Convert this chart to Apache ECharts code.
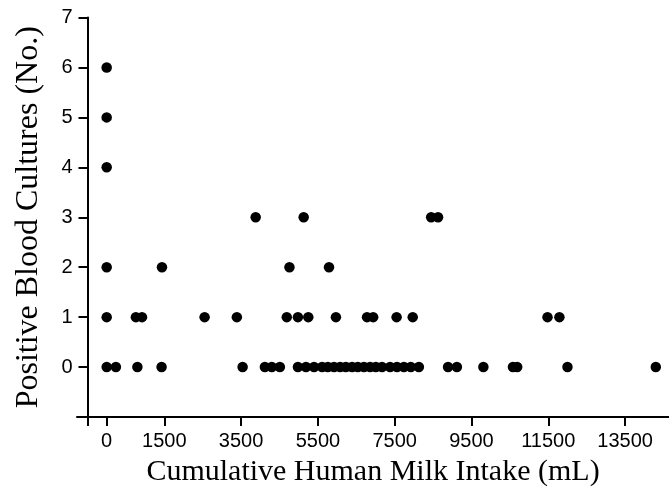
<!DOCTYPE html>
<html><head><meta charset="utf-8">
<script src="https://cdn.jsdelivr.net/npm/echarts@6/dist/echarts.min.js"></script>
<style>html,body{margin:0;padding:0;background:#fff}#c{width:669px;height:492px}</style>
</head><body><div id="c"></div>
<script>
// Tick values
const xTickValues = [-500, 0, 1500, 3500, 5500, 7500, 9500, 11500, 13500];
const xLabelValues = [0, 1500, 3500, 5500, 7500, 9500, 11500, 13500];
const yLabelValues = [0, 1, 2, 3, 4, 5, 6, 7];

// Cumulative human milk intake (mL) of infants, grouped by number of positive blood cultures
const intake0 = [0, 240, 800, 1430, 3540, 4120, 4300, 4510, 4980, 5190, 5400, 5610, 5760, 5920, 6080, 6230, 6390, 6540, 6700, 6860, 7010, 7170, 7380, 7560, 7740, 7920, 8130, 8890, 9120, 9810, 10580, 10690, 12000, 14300];
const intake1 = [0, 760, 920, 2550, 3390, 4690, 4980, 5250, 5970, 6780, 6940, 7550, 7970, 11480, 11790];
const intake2 = [0, 1440, 4760, 5790];
const intake3 = [3880, 5130, 8450, 8630];
const intake4 = [0];
const intake5 = [0];
const intake6 = [0];

const groups = [intake0, intake1, intake2, intake3, intake4, intake5, intake6];
const points = [];
groups.forEach((arr, count) => arr.forEach(x => points.push([x, count])));

const chart = echarts.init(document.getElementById('c'));
chart.setOption({
  animation: false,
  backgroundColor: '#fff',
  grid: { left: 77, right: 0, top: 17.5, bottom: 74.7, containLabel: false },
  xAxis: {
    type: 'value', min: -773, max: 14644,
    splitLine: { show: false },
    axisLine: { show: true, onZero: false, lineStyle: { color: '#000', width: 2 } },
    axisTick: { show: true, length: 9, inside: false, customValues: xTickValues, lineStyle: { color: '#000', width: 2 } },
    axisLabel: { customValues: xLabelValues, formatter: v => String(v), color: '#000', fontFamily: 'Liberation Sans', fontSize: 20, margin: 14 },
    name: 'Cumulative Human Milk Intake (mL)',
    nameLocation: 'middle', nameGap: 40,
    nameTextStyle: { color: '#000', fontFamily: 'Liberation Serif', fontSize: 30 }
  },
  yAxis: {
    type: 'value', min: -1, max: 7, offset: -10.5,
    splitLine: { show: false },
    axisLine: { show: true, onZero: false, lineStyle: { color: '#000', width: 2 } },
    axisTick: { show: true, length: 9, inside: false, customValues: yLabelValues, lineStyle: { color: '#000', width: 2 } },
    axisLabel: { customValues: yLabelValues, formatter: v => String(v), color: '#000', fontFamily: 'Liberation Sans', fontSize: 20, margin: 15 },
    name: 'Positive Blood Cultures (No.)',
    nameLocation: 'middle', nameGap: 43, nameRotate: 90,
    nameTextStyle: { color: '#000', fontFamily: 'Liberation Serif', fontSize: 32 }
  },
  series: [{
    type: 'scatter', data: points, symbol: 'circle', symbolSize: 10.5,
    itemStyle: { color: '#000', opacity: 1 }
  }]
});
</script></body></html>
